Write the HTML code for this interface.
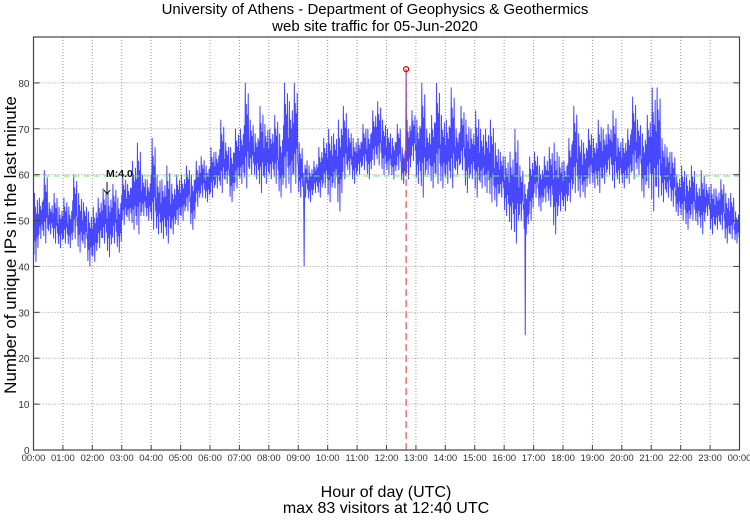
<!DOCTYPE html>
<html><head><meta charset="utf-8"><style>
body{margin:0;background:#fff;}
svg text{font-family:"Liberation Sans",sans-serif;}
</style></head><body>
<svg id="chart" width="750" height="515" xmlns="http://www.w3.org/2000/svg">
<text x="375" y="14" font-size="15" text-anchor="middle">University of Athens - Department of Geophysics &amp; Geothermics</text>
<text x="375" y="31" font-size="15" text-anchor="middle">web site traffic for 05-Jun-2020</text>
<text transform="translate(16,245) rotate(-90)" font-size="17" text-anchor="middle">Number of unique IPs in the last minute</text>
<text x="386" y="497" font-size="16" text-anchor="middle">Hour of day (UTC)</text>
<text x="386" y="513" font-size="16" text-anchor="middle">max 83 visitors at 12:40 UTC</text>
<g id="grid"></g><g id="series"></g><g id="overlay"></g><g id="axes"></g>
</svg>
<script>
const hourLabels=["00:00","01:00","02:00","03:00","04:00","05:00","06:00","07:00","08:00","09:00","10:00","11:00","12:00","13:00","14:00","15:00","16:00","17:00","18:00","19:00","20:00","21:00","22:00","23:00","00:00"];
const yTicks=[0,10,20,30,40,50,60,70,80];
const slotHigh=[56,55,61,54,56,53, 55,53,60,56,54,52, 53,55,57,56,58,55, 60,58,63,67,60,59, 68,60,59,62,58,60, 60,62,60,63,64,62, 66,65,72,67,66,70, 70,80,72,69,75,71, 70,73,69,80,76,80, 67,64,62,63,66,68, 70,69,72,75,70,68, 68,71,70,74,76,72, 70,68,71,66,72,74, 72,80,70,73,80,73, 72,79,70,75,72,70, 74,70,70,72,67,65, 64,65,70,62,58,64, 65,62,64,66,67,64, 63,68,75,69,67,70, 68,72,70,71,74,68, 68,70,77,72,69,73, 79,79,68,66,65,60, 62,60,62,58,61,58, 58,57,59,56,56,52];
const slotLow=[41,46,45,47,45,44, 45,44,46,43,44,40, 41,44,45,42,45,43, 49,50,48,47,51,50, 48,47,46,45,47,49, 50,52,48,53,55,54, 55,57,56,58,54,57, 58,57,60,59,56,58, 59,58,55,57,56,58, 55,55,54,56,55,57, 54,57,52,59,60,58, 60,61,59,62,62,60, 60,59,61,58,59,63, 58,55,60,57,58,57, 58,57,60,61,56,59, 55,57,56,54,53,55, 51,48,45,50,47,50, 55,52,54,53,47,52, 52,54,56,55,55,58, 57,56,58,60,57,58, 57,58,59,60,55,57, 52,55,54,55,53,51, 50,48,50,49,47,51, 47,48,48,45,46,45];
const spikeMinutes=[552,1003,760];
const spikeValues=[40,25,83];
const maxValue=83, maxMinute=760, meanLine=59.7, markerMinute=150, markerLabel="M:4.0";

const L=33.5,R=739.5,T=37,B=450,YMAX=90;
const xs=m=>L+(R-L)*m/1440;
const ys=v=>B-(B-T)*v/YMAX;
const NS="http://www.w3.org/2000/svg";
function mk(tag,attrs,parent){const e=document.createElementNS(NS,tag);for(const k in attrs)e.setAttribute(k,attrs[k]);parent.appendChild(e);return e;}
const grid=document.getElementById('grid'),axes=document.getElementById('axes'),series=document.getElementById('series'),ov=document.getElementById('overlay');
hourLabels.forEach((lab,i)=>{const x=xs(i*60);
 if(i>0&&i<24){const g=mk('line',{x1:x,x2:x,y1:T,y2:B,stroke:'#999','stroke-dasharray':'1,2','stroke-width':1},grid);
 
 }
 const tk=mk('line',{x1:x,x2:x,y1:B,y2:B-5,stroke:'#444'},axes);
 
 
 const t=mk('text',{x:x,y:B+11,'font-size':9.5,'text-anchor':'middle',fill:'#333'},axes);t.textContent=lab;
 
 
});
yTicks.forEach(v=>{const y=ys(v);
 if(v>0){const g=mk('line',{x1:L,x2:R,y1:y,y2:y,stroke:'#999','stroke-dasharray':'1,2'},grid);
 
 }
 const tk=mk('line',{x1:L,x2:L+6,y1:y,y2:y,stroke:'#444'},axes);
 
 
 const tk2=mk('line',{x1:R,x2:R-6,y1:y,y2:y,stroke:'#444'},axes);
 
 
 const t=mk('text',{x:L-4,y:y+4,'font-size':10,'text-anchor':'end',fill:'#333'},axes);t.textContent=v;
 
 
});
const frame=mk('rect',{x:L,y:T,width:R-L,height:B-T,fill:'none',stroke:'#444','stroke-width':1.2},axes);


// series
const w=[0.6,0.1,1,0.3,0.8,0,0.7,0.35,0.9,0.2];
let d='';
slotHigh.forEach((h,i)=>{const lo=slotLow[i];
 for(let k=0;k<10;k++){const m=i*10+k;let v=lo+(h-lo)*w[k];
  const si=spikeMinutes.indexOf(m);if(si>=0)v=spikeValues[si];
  d+=(d?'L':'M')+xs(m).toFixed(2)+','+ys(v).toFixed(2);}
});
const p=mk('path',{d:d,fill:'none',stroke:'#1a1aff','stroke-width':1,'stroke-opacity':0.8},series);


const ml=mk('line',{x1:L,x2:R,y1:ys(meanLine),y2:ys(meanLine),stroke:'#66ee66','stroke-dasharray':'6,4','stroke-width':1},ov);


const vl=mk('line',{x1:xs(maxMinute),x2:xs(maxMinute),y1:ys(maxValue),y2:B,stroke:'#e03030','stroke-dasharray':'7,4','stroke-width':1},ov);


const c=mk('circle',{cx:xs(maxMinute),cy:ys(maxValue),r:2.5,fill:'none',stroke:'#e00000','stroke-width':1.2},ov);


const mx=xs(markerMinute);
const mt=mk('text',{x:mx-1,y:ys(meanLine)+1,'font-size':10.5,'font-weight':'bold',fill:'#111'},ov);mt.textContent=markerLabel;


const ar=mk('path',{d:`M${mx},${ys(meanLine)+6}V${ys(meanLine)+18}M${mx-3},${ys(meanLine)+14}L${mx},${ys(meanLine)+18}L${mx+3},${ys(meanLine)+14}`,fill:'none',stroke:'#111','stroke-width':1},ov);


</script>
</body></html>
